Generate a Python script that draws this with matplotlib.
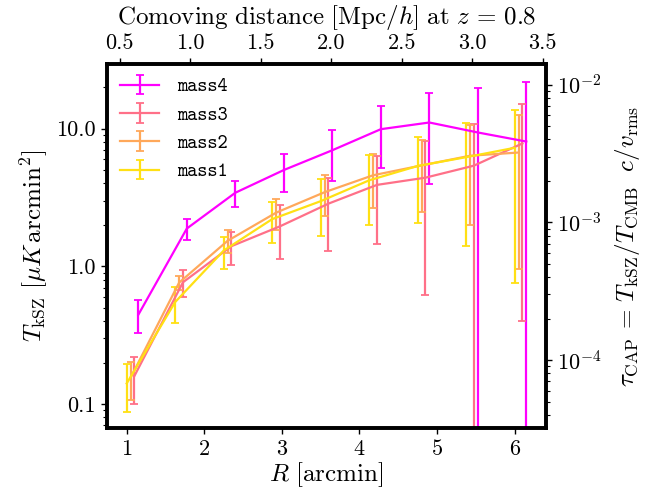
import numpy as np
import matplotlib
matplotlib.use("Agg")
import matplotlib.pyplot as plt
from matplotlib.ticker import FixedLocator, FuncFormatter, LogLocator, NullFormatter

plt.rcParams['font.family'] = 'serif'
plt.rcParams['font.serif'] = ['cmr10']
plt.rcParams['mathtext.fontset'] = 'cm'
plt.rcParams['axes.formatter.use_mathtext'] = True

# ---- data ----
R = [1.0, 1.625, 2.25, 2.875, 3.5, 4.125, 4.75, 5.375, 6.0]
labels = ['mass4', 'mass3', 'mass2', 'mass1']
colors = ['#ff00ff', '#ff7088', '#ffa85a', '#ffe014']
offsets = [0.15, 0.10, 0.05, 0.0]

mass4 = [0.445, 1.88, 3.42, 5.0, 6.96, 9.9, 11.07, 9.37, 8.05]
mass4_err = [0.12, 0.34, 0.73, 1.55, 2.8, 4.7, 7.1, 10.2, 13.9]
mass3 = [0.16, 0.765, 1.40, 1.95, 2.85, 3.90, 4.40, 5.38, 7.8]
mass3_err = [0.06, 0.17, 0.38, 0.82, 1.55, 2.45, 3.78, 5.45, 7.4]
mass2 = [0.155, 0.76, 1.53, 2.45, 3.45, 4.58, 5.40, 6.35, 6.7]
mass2_err = [0.048, 0.09, 0.29, 0.62, 1.15, 1.93, 2.93, 4.35, 5.75]
mass1 = [0.141, 0.55, 1.30, 2.20, 2.97, 4.21, 5.35, 6.2, 7.25]
mass1_err = [0.054, 0.16, 0.34, 0.72, 1.31, 2.22, 3.3, 4.8, 6.5]

series = [mass4, mass3, mass2, mass1]
errs = [mass4_err, mass3_err, mass2_err, mass1_err]

tick_vals = [0.1, 1.0, 10.0]
top_ticks = [0.5, 1.0, 1.5, 2.0, 2.5, 3.0, 3.5]
mpc_per_arcmin = 0.55
tau_factor = 4.8e-4

fig = plt.figure(figsize=(6.67, 4.93), dpi=100)
ax = fig.add_axes([0.160, 0.132, 0.659, 0.738])

for y, e, lab, c, off in zip(series, errs, labels, colors, offsets):
    x = np.array(R) + off
    ax.errorbar(x, y, yerr=e, color=c, lw=1.6, elinewidth=1.6, capsize=3.2,
                capthick=1.3, label=lab)

ax.set_yscale('log')
ax.set_ylim(0.067, 29.4)
ax.yaxis.set_major_locator(FixedLocator(tick_vals))
ax.yaxis.set_major_formatter(FuncFormatter(lambda v, p: '%.1f' % v))
ax.yaxis.set_minor_locator(LogLocator(base=10, subs=np.arange(2, 10)))
ax.yaxis.set_minor_formatter(NullFormatter())
ax.set_xticks([1, 2, 3, 4, 5, 6])

for s in ax.spines.values():
    s.set_linewidth(2.6)

ax.tick_params(which='major', direction='out', length=4.5, width=1.0, labelsize=16)
ax.tick_params(which='minor', direction='out', length=3, width=0.8)

ax.set_xlabel(r'$R\ [\mathrm{arcmin}]$', fontsize=18, labelpad=1)
ax.set_ylabel(r'$T_{\rm kSZ}\ [\mu K\,\mathrm{arcmin}^2]$', fontsize=18)

# twin right axis
ax2 = ax.twinx()
ax2.set_yscale('log')
lo, hi = ax.get_ylim()
ax2.set_ylim(lo * tau_factor, hi * tau_factor)
ax2.tick_params(which='major', direction='out', length=4.5, width=1.0, labelsize=16)
ax2.tick_params(which='minor', direction='out', length=3, width=0.8)
ax2.set_ylabel(r'$\tau_{\rm CAP}\,=\,T_{\rm kSZ}/T_{\rm CMB}\ \ c/v_{\rm rms}$', fontsize=18, labelpad=8)
for s in ax2.spines.values():
    s.set_linewidth(2.6)

# secondary top axis
sec = ax.secondary_xaxis('top', functions=(lambda r: r * mpc_per_arcmin,
                                            lambda d: d / mpc_per_arcmin))
sec.set_xticks(top_ticks)
sec.xaxis.set_major_formatter(FuncFormatter(lambda v, p: '%.1f' % v))
sec.tick_params(which='major', direction='out', length=4.5, width=1.0, labelsize=16)
sec.tick_params(which='minor', length=0)
sec.set_xlabel(r'$\mathrm{Comoving\ distance\ [Mpc}/h]\ \mathrm{at}\ z\,=\,0.8$', fontsize=18, labelpad=7)

leg = ax.legend(loc='upper left', frameon=False, prop={'family': 'monospace', 'size': 14},
                borderaxespad=0.3, handletextpad=0.9)
for t in leg.get_texts():
    t.set_fontfamily('cmtt10')

fig.savefig('out.png', dpi=100)
